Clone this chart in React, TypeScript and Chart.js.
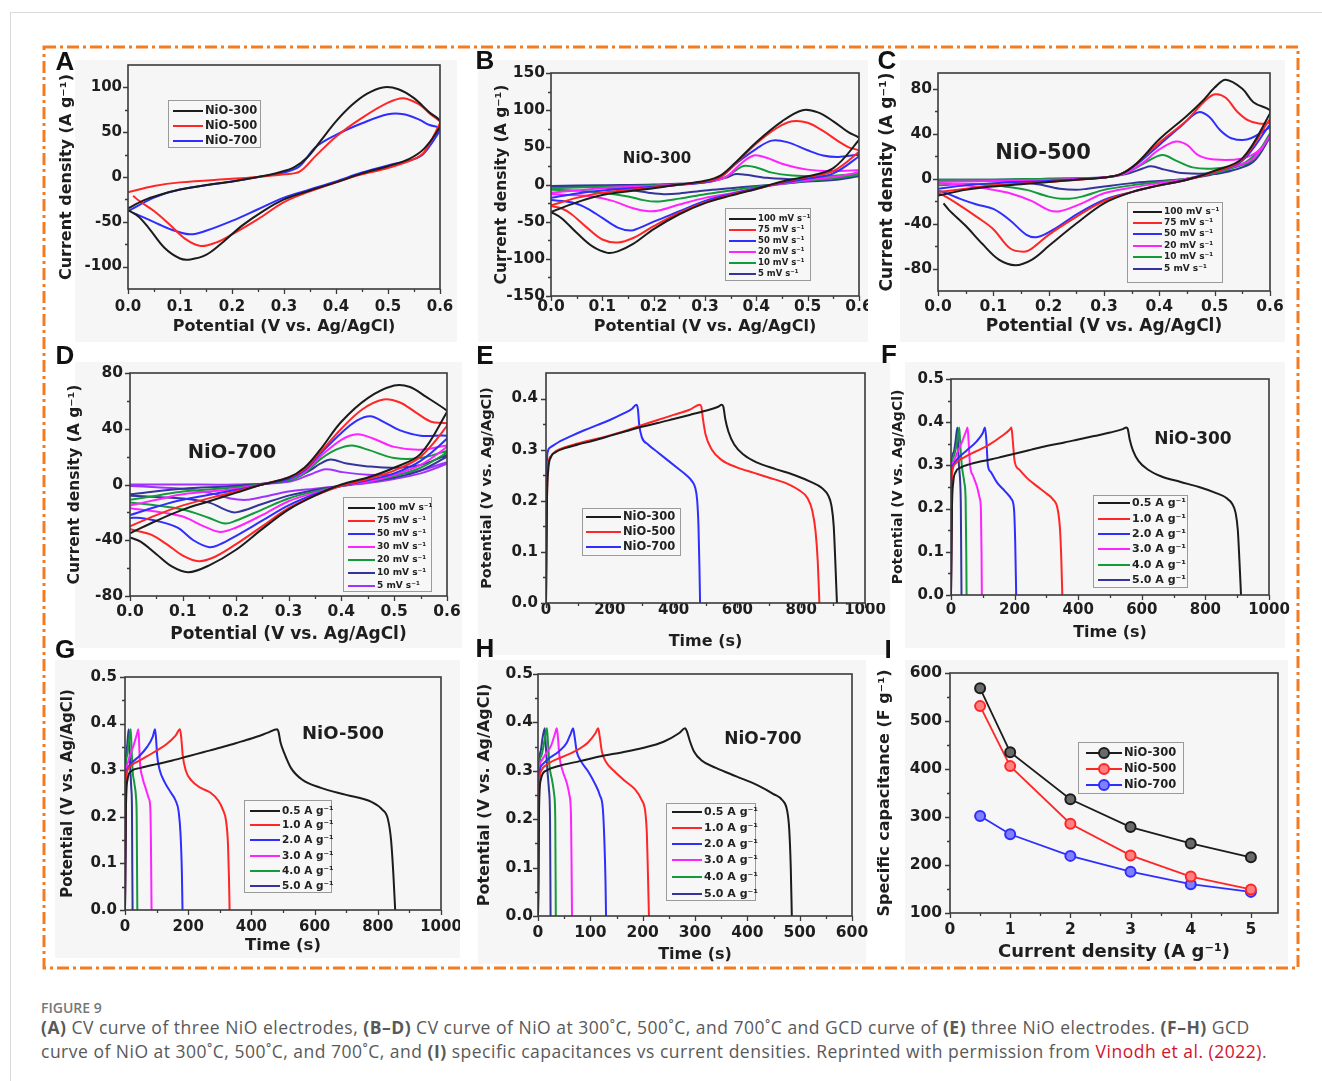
import React, { useEffect, useRef } from "react";
import { Chart, registerables } from "chart.js";
Chart.register(...registerables);

type P = [number, number];

const FONT = '"DejaVu Sans", "Liberation Sans", sans-serif';
const BLACK = "#1c1c1c";
const RED = "#ff2626";
const BLUE = "#2e2eff";
const MAGENTA = "#ff24ff";
const GREEN = "#139a3a";
const NAVY = "#34349c";
const PURPLE = "#a033ff";

// ---------- labels ----------
const SAMPLES = ["NiO-300", "NiO-500", "NiO-700"];
const RATES_BC = ["100 mV s⁻¹", "75 mV s⁻¹", "50 mV s⁻¹", "20 mV s⁻¹", "10 mV s⁻¹", "5 mV s⁻¹"];
const RATES_D = ["100 mV s⁻¹", "75 mV s⁻¹", "50 mV s⁻¹", "30 mV s⁻¹", "20 mV s⁻¹", "10 mV s⁻¹", "5 mV s⁻¹"];
const CURRENTS = ["0.5 A g⁻¹", "1.0 A g⁻¹", "2.0 A g⁻¹", "3.0 A g⁻¹", "4.0 A g⁻¹", "5.0 A g⁻¹"];

// ---------- ticks ----------
const CV_X_MAJOR = [0, 0.1, 0.2, 0.3, 0.4, 0.5, 0.6];
const CV_X_MINOR = [0.05, 0.15, 0.25, 0.35, 0.45, 0.55];
const A_Y_MAJOR = [-100, -50, 0, 50, 100];
const A_Y_MINOR = [-75, -25, 25, 75];
const B_Y_MAJOR = [-150, -100, -50, 0, 50, 100, 150];
const B_Y_MINOR = [-125, -75, -25, 25, 75, 125];
const CD_Y_MAJOR = [-80, -40, 0, 40, 80];
const CD_Y_MINOR = [-60, -20, 20, 60];
const E_Y_MAJOR = [0, 0.1, 0.2, 0.3, 0.4];
const E_Y_MINOR = [0.05, 0.15, 0.25, 0.35];
const GCD_Y_MAJOR = [0, 0.1, 0.2, 0.3, 0.4, 0.5];
const GCD_Y_MINOR = [0.05, 0.15, 0.25, 0.35, 0.45];
const GCD_X_MAJOR = [0, 200, 400, 600, 800, 1000];
const GCD_X_MINOR = [100, 300, 500, 700, 900];
const H_X_MAJOR = [0, 100, 200, 300, 400, 500, 600];
const H_X_MINOR = [50, 150, 250, 350, 450, 550];
const I_X_MAJOR = [0, 1, 2, 3, 4, 5];
const I_X_MINOR = [0.5, 1.5, 2.5, 3.5, 4.5];
const I_Y_MAJOR = [100, 200, 300, 400, 500, 600];
const I_Y_MINOR = [150, 250, 350, 450, 550];

// ---------- A : CV of three electrodes ----------
const CV_A_300: P[] = [[0,-35],[0.03,-26],[0.06,-20],[0.1,-14],[0.15,-9],[0.2,-5],[0.25,0],[0.29,5],[0.32,11],[0.345,22],[0.37,40],[0.4,62],[0.43,80],[0.46,93],[0.49,100],[0.52,98],[0.55,88],[0.58,72],[0.6,63],[0.6,56],[0.57,32],[0.54,20],[0.5,12],[0.45,4],[0.4,-6],[0.35,-15],[0.3,-25],[0.26,-38],[0.22,-54],[0.18,-74],[0.15,-87],[0.12,-92],[0.1,-91],[0.07,-79],[0.04,-57],[0.02,-44],[0,-37]];
const CV_A_500: P[] = [[0,-17],[0.05,-10],[0.1,-6],[0.2,-2],[0.25,0],[0.3,3],[0.33,6],[0.36,23],[0.4,45],[0.45,66],[0.5,83],[0.53,88],[0.56,81],[0.58,71],[0.6,62],[0.6,60],[0.57,28],[0.55,20],[0.5,10],[0.45,3],[0.4,-6],[0.35,-16],[0.3,-28],[0.25,-47],[0.2,-64],[0.17,-73],[0.14,-77],[0.11,-69],[0.08,-53],[0.05,-38],[0.02,-26],[0.01,-21]];
const CV_A_700: P[] = [[0,-38],[0.05,-23],[0.1,-14],[0.2,-5],[0.25,0],[0.3,5],[0.33,12],[0.36,33],[0.4,47],[0.45,60],[0.5,70],[0.53,70],[0.56,64],[0.58,58],[0.6,55],[0.6,52],[0.57,27],[0.55,20],[0.5,13],[0.45,5],[0.4,-5],[0.35,-14],[0.3,-23],[0.25,-36],[0.2,-49],[0.15,-60],[0.12,-64],[0.09,-60],[0.06,-53],[0.03,-45],[0.01,-40]];

// ---------- B : NiO-300 at scan rates ----------
const CV_B_100: P[] = [[0,-37],[0.05,-24],[0.1,-14],[0.2,-5],[0.25,0],[0.3,5],[0.33,12],[0.36,30],[0.4,57],[0.45,85],[0.49,100],[0.52,97],[0.55,85],[0.58,70],[0.6,63],[0.6,60],[0.55,22],[0.5,11],[0.45,4],[0.4,-6],[0.35,-15],[0.3,-25],[0.25,-40],[0.2,-60],[0.16,-80],[0.13,-90],[0.11,-92],[0.08,-83],[0.05,-65],[0.02,-45],[0,-37]];
const CV_B_75: P[] = [[0,-28],[0.05,-18],[0.1,-11],[0.2,-4],[0.3,4],[0.33,10],[0.36,28],[0.4,55],[0.44,76],[0.47,85],[0.5,83],[0.53,72],[0.56,58],[0.58,50],[0.6,46],[0.6,44],[0.55,18],[0.5,10],[0.45,3],[0.4,-6],[0.35,-14],[0.3,-24],[0.25,-38],[0.2,-56],[0.16,-72],[0.13,-78],[0.1,-74],[0.07,-58],[0.04,-40],[0.02,-32],[0,-29]];
const CV_B_50: P[] = [[0,-18],[0.05,-12],[0.1,-8],[0.2,-3],[0.3,3],[0.33,10],[0.36,28],[0.4,48],[0.43,59],[0.46,57],[0.5,46],[0.53,39],[0.56,37],[0.6,40],[0.6,38],[0.55,15],[0.5,8],[0.45,2],[0.4,-5],[0.35,-13],[0.3,-22],[0.25,-36],[0.2,-50],[0.17,-59],[0.155,-62],[0.13,-58],[0.1,-45],[0.07,-32],[0.04,-24],[0,-21]];
const CV_B_20: P[] = [[0,-11],[0.05,-8],[0.1,-5],[0.2,-2],[0.3,3],[0.34,10],[0.37,28],[0.395,39],[0.42,36],[0.45,28],[0.5,20],[0.55,18],[0.6,19],[0.6,17],[0.55,10],[0.5,6],[0.45,1],[0.4,-5],[0.35,-12],[0.3,-18],[0.25,-27],[0.21,-35],[0.19,-36],[0.16,-32],[0.12,-22],[0.08,-16],[0.04,-14],[0,-13]];
const CV_B_10: P[] = [[0,-5],[0.1,-3],[0.2,-1],[0.3,3],[0.34,10],[0.36,19],[0.375,25],[0.4,23],[0.43,16],[0.47,12],[0.52,11],[0.6,14],[0.6,13],[0.55,8],[0.5,5],[0.45,1],[0.4,-3],[0.35,-8],[0.3,-13],[0.25,-19],[0.205,-23],[0.18,-21],[0.15,-16],[0.1,-11],[0.05,-8],[0,-7]];
const CV_B_5: P[] = [[0,-2],[0.1,-1],[0.2,0],[0.3,3],[0.34,9],[0.36,14],[0.38,13],[0.42,9],[0.48,7],[0.55,9],[0.6,11],[0.6,11],[0.55,6],[0.5,4],[0.45,1],[0.4,-2],[0.35,-5],[0.3,-8],[0.25,-12],[0.22,-13],[0.19,-11],[0.15,-7],[0.1,-4],[0.05,-3],[0,-3]];

// ---------- C : NiO-500 at scan rates ----------
const CV_C_100: P[] = [[0,-15],[0.05,-10],[0.1,-7],[0.15,-5],[0.2,-3],[0.25,-1],[0.3,1],[0.33,4],[0.36,14],[0.4,35],[0.45,56],[0.48,70],[0.5,81],[0.52,88],[0.55,80],[0.57,68],[0.6,61],[0.6,58],[0.55,18],[0.5,7],[0.45,-1],[0.4,-6],[0.35,-12],[0.3,-22],[0.25,-40],[0.2,-60],[0.17,-72],[0.14,-77],[0.11,-72],[0.08,-58],[0.05,-42],[0.02,-28],[0.01,-22]];
const CV_C_75: P[] = [[0,-12],[0.05,-9],[0.1,-6],[0.2,-3],[0.3,1],[0.33,4],[0.36,14],[0.4,32],[0.45,52],[0.48,68],[0.5,75],[0.52,72],[0.54,60],[0.56,52],[0.58,49],[0.6,50],[0.6,53],[0.55,17],[0.5,6],[0.45,-1],[0.4,-6],[0.35,-12],[0.3,-20],[0.25,-34],[0.2,-50],[0.17,-62],[0.155,-65],[0.13,-62],[0.1,-45],[0.07,-34],[0.04,-24],[0.01,-15],[0,-13]];
const CV_C_50: P[] = [[0,-9],[0.05,-6],[0.1,-4],[0.2,-2],[0.3,1],[0.33,4],[0.36,13],[0.4,30],[0.44,47],[0.47,59],[0.49,55],[0.51,43],[0.53,36],[0.56,35],[0.6,46],[0.6,48],[0.55,16],[0.5,6],[0.45,-1],[0.4,-6],[0.35,-12],[0.3,-19],[0.25,-32],[0.21,-45],[0.18,-52],[0.16,-50],[0.13,-37],[0.1,-27],[0.07,-23],[0.04,-18],[0.01,-12],[0,-11]];
const CV_C_20: P[] = [[0,-3],[0.1,-2],[0.2,-1],[0.3,1],[0.34,5],[0.37,14],[0.4,26],[0.43,33],[0.45,30],[0.47,21],[0.5,17],[0.55,18],[0.58,25],[0.6,38],[0.6,38],[0.57,18],[0.53,10],[0.5,6],[0.45,0],[0.4,-4],[0.35,-8],[0.3,-13],[0.26,-22],[0.22,-29],[0.2,-28],[0.17,-20],[0.13,-13],[0.1,-10],[0.05,-6],[0,-4]];
const CV_C_10: P[] = [[0,-1],[0.1,-1],[0.2,0],[0.3,1],[0.34,5],[0.37,13],[0.405,21],[0.43,16],[0.46,10],[0.5,9],[0.55,13],[0.58,25],[0.6,40],[0.6,39],[0.57,17],[0.53,9],[0.5,5],[0.45,0],[0.4,-3],[0.35,-6],[0.3,-10],[0.26,-16],[0.23,-18],[0.2,-16],[0.16,-10],[0.12,-7],[0.08,-5],[0.04,-5],[0,-6]];
const CV_C_5: P[] = [[0,-1],[0.1,-1],[0.2,0],[0.3,1],[0.34,4],[0.37,9],[0.385,11],[0.41,8],[0.44,5],[0.5,5],[0.55,10],[0.58,22],[0.6,38],[0.6,37],[0.57,15],[0.53,7],[0.5,4],[0.45,0],[0.4,-2],[0.35,-4],[0.3,-7],[0.27,-9],[0.25,-10],[0.22,-9],[0.18,-5],[0.12,-2],[0.05,-1],[0,-1]];

// ---------- D : NiO-700 at scan rates ----------
const CV_D_100: P[] = [[0,-35],[0.05,-26],[0.1,-18],[0.15,-12],[0.2,-6],[0.25,0],[0.3,5],[0.33,12],[0.36,25],[0.4,45],[0.45,62],[0.5,71],[0.53,70],[0.56,63],[0.6,53],[0.6,52],[0.55,22],[0.5,12],[0.45,5],[0.4,0],[0.35,-8],[0.3,-18],[0.25,-32],[0.2,-47],[0.15,-58],[0.11,-63],[0.08,-59],[0.05,-50],[0.02,-41],[0,-38]];
const CV_D_75: P[] = [[0,-30],[0.05,-22],[0.1,-15],[0.2,-5],[0.25,0],[0.3,5],[0.33,11],[0.36,23],[0.4,40],[0.44,54],[0.48,61],[0.51,59],[0.54,52],[0.57,45],[0.6,44],[0.6,42],[0.55,20],[0.5,10],[0.45,4],[0.4,-1],[0.35,-8],[0.3,-17],[0.25,-30],[0.2,-43],[0.16,-52],[0.13,-55],[0.1,-51],[0.07,-43],[0.04,-36],[0.01,-33],[0,-32]];
const CV_D_50: P[] = [[0,-22],[0.05,-16],[0.1,-11],[0.2,-4],[0.25,0],[0.3,4],[0.33,10],[0.36,22],[0.4,37],[0.43,46],[0.455,49],[0.48,45],[0.51,39],[0.55,35],[0.6,35],[0.6,33],[0.55,17],[0.5,8],[0.45,3],[0.4,-1],[0.35,-7],[0.3,-15],[0.25,-26],[0.2,-37],[0.17,-43],[0.15,-45],[0.12,-40],[0.09,-31],[0.05,-26],[0.02,-24],[0,-24]];
const CV_D_30: P[] = [[0,-15],[0.05,-11],[0.1,-7],[0.2,-3],[0.3,4],[0.33,9],[0.36,20],[0.4,32],[0.43,36],[0.46,33],[0.5,27],[0.55,25],[0.6,28],[0.6,27],[0.55,14],[0.5,7],[0.45,2],[0.4,-1],[0.35,-6],[0.3,-12],[0.25,-22],[0.2,-31],[0.17,-34],[0.14,-30],[0.1,-23],[0.06,-20],[0.02,-18],[0,-17]];
const CV_D_20: P[] = [[0,-11],[0.05,-8],[0.1,-5],[0.2,-2],[0.3,3],[0.33,8],[0.36,18],[0.39,25],[0.42,28],[0.45,25],[0.5,19],[0.55,19],[0.6,24],[0.6,23],[0.55,12],[0.5,6],[0.45,2],[0.4,-1],[0.35,-5],[0.3,-10],[0.25,-18],[0.2,-26],[0.18,-28],[0.15,-24],[0.1,-18],[0.05,-15],[0,-13]];
const CV_D_10: P[] = [[0,-7],[0.1,-3],[0.2,-1],[0.3,3],[0.34,10],[0.36,15],[0.38,18],[0.41,15],[0.45,13],[0.5,12],[0.55,14],[0.6,21],[0.6,20],[0.55,10],[0.5,5],[0.45,2],[0.4,-1],[0.35,-4],[0.3,-8],[0.25,-14],[0.2,-20],[0.18,-18],[0.15,-13],[0.1,-10],[0.05,-9],[0,-8]];
const CV_D_5: P[] = [[0,0],[0.1,0],[0.2,0],[0.3,2],[0.34,7],[0.37,11],[0.4,9],[0.45,7],[0.5,7],[0.55,10],[0.6,16],[0.6,15],[0.55,8],[0.5,4],[0.45,1],[0.4,-1],[0.35,-3],[0.3,-5],[0.25,-9],[0.22,-11],[0.19,-10],[0.15,-6],[0.1,-3],[0.05,-2],[0,-1]];

// ---------- E : GCD of three electrodes at 0.5 A/g ----------
const GCD_300_05: P[] = [[0,0],[3,0.2],[7,0.26],[15,0.285],[30,0.295],[60,0.303],[100,0.31],[150,0.318],[200,0.327],[250,0.336],[300,0.345],[350,0.352],[400,0.36],[450,0.368],[500,0.376],[540,0.384],[551,0.388],[556,0.384],[562,0.36],[572,0.335],[590,0.31],[620,0.29],[660,0.275],[720,0.262],[780,0.25],[830,0.237],[865,0.225],[885,0.21],[895,0.19],[902,0.15],[907,0.08],[912,0]];
const GCD_500_05_E: P[] = [[0,0],[3,0.2],[7,0.27],[15,0.287],[30,0.297],[60,0.305],[100,0.312],[150,0.32],[200,0.328],[250,0.337],[300,0.348],[350,0.358],[400,0.368],[450,0.378],[482,0.388],[487,0.384],[492,0.36],[500,0.33],[520,0.3],[550,0.28],[600,0.265],[650,0.255],[700,0.245],[750,0.235],[790,0.222],[820,0.205],[835,0.18],[845,0.14],[852,0.08],[857,0]];
const GCD_700_05_E: P[] = [[0,0],[2,0.25],[5,0.295],[15,0.305],[40,0.315],[80,0.327],[120,0.338],[160,0.348],[200,0.358],[240,0.37],[270,0.38],[283,0.388],[288,0.38],[292,0.35],[300,0.325],[320,0.31],[350,0.295],[380,0.28],[410,0.265],[440,0.25],[458,0.238],[468,0.225],[474,0.2],[478,0.15],[481,0.07],[483,0]];

// ---------- F : NiO-300 GCD ----------
const F_10: P[] = [[0,0],[2,0.25],[5,0.29],[15,0.305],[40,0.318],[80,0.333],[120,0.348],[160,0.368],[185,0.383],[190,0.388],[194,0.36],[200,0.31],[215,0.29],[240,0.27],[270,0.252],[300,0.235],[320,0.222],[335,0.2],[343,0.15],[347,0.08],[350,0]];
const F_20: P[] = [[0,0],[2,0.27],[6,0.3],[20,0.315],[50,0.335],[80,0.355],[100,0.375],[107,0.388],[111,0.36],[116,0.3],[125,0.285],[145,0.26],[170,0.24],[190,0.222],[198,0.2],[202,0.12],[205,0]];
const F_30: P[] = [[0,0],[2,0.28],[8,0.31],[20,0.33],[35,0.355],[48,0.38],[52,0.388],[55,0.36],[60,0.3],[70,0.275],[82,0.25],[90,0.225],[94,0.2],[96,0.1],[97,0]];
const F_40: P[] = [[0,0],[2,0.29],[8,0.32],[18,0.35],[26,0.388],[29,0.35],[34,0.3],[42,0.26],[46,0.22],[48,0.1],[49,0]];
const F_50: P[] = [[0,0],[2,0.3],[8,0.33],[15,0.36],[20,0.388],[22,0.35],[25,0.3],[29,0.26],[31,0.2],[32,0.1],[33,0]];

// ---------- G : NiO-500 GCD ----------
const G_05: P[] = [[0,0],[3,0.22],[8,0.28],[20,0.298],[50,0.305],[100,0.313],[150,0.321],[200,0.33],[250,0.339],[300,0.348],[350,0.358],[400,0.368],[450,0.38],[482,0.388],[486,0.382],[492,0.36],[505,0.335],[525,0.305],[560,0.28],[620,0.262],[700,0.247],[780,0.232],[815,0.215],[832,0.195],[842,0.15],[849,0.08],[855,0]];
const G_10: P[] = [[0,0],[2,0.25],[6,0.295],[20,0.31],[50,0.322],[90,0.338],[130,0.355],[160,0.374],[174,0.388],[178,0.37],[183,0.33],[192,0.3],[210,0.278],[240,0.262],[270,0.252],[295,0.235],[310,0.215],[320,0.19],[326,0.14],[329,0.07],[331,0]];
const G_20: P[] = [[0,0],[2,0.26],[6,0.3],[20,0.315],[45,0.33],[70,0.35],[88,0.372],[95,0.388],[98,0.37],[102,0.33],[110,0.3],[125,0.275],[145,0.252],[160,0.235],[170,0.21],[176,0.16],[180,0.08],[182,0]];
const G_30: P[] = [[0,0],[2,0.28],[6,0.31],[15,0.33],[28,0.355],[38,0.378],[42,0.388],[44,0.37],[47,0.32],[55,0.285],[66,0.26],[75,0.24],[80,0.22],[82,0.15],[84,0]];
const G_40: P[] = [[0,0],[2,0.29],[6,0.33],[12,0.36],[18,0.388],[20,0.36],[24,0.3],[30,0.27],[35,0.24],[37,0.2],[38,0.1],[39,0]];
const G_50: P[] = [[0,0],[2,0.3],[5,0.34],[9,0.37],[12,0.388],[14,0.35],[17,0.3],[20,0.26],[22,0.22],[23,0.1],[24,0]];

// ---------- H : NiO-700 GCD ----------
const H_05: P[] = [[0,0],[2,0.22],[5,0.28],[15,0.3],[40,0.31],[80,0.32],[120,0.33],[160,0.338],[200,0.347],[240,0.36],[270,0.378],[281,0.388],[285,0.38],[290,0.362],[298,0.34],[312,0.322],[340,0.306],[380,0.288],[420,0.27],[450,0.252],[468,0.238],[476,0.218],[480,0.18],[483,0.1],[485,0]];
const H_10: P[] = [[0,0],[2,0.26],[6,0.3],[20,0.315],[45,0.328],[70,0.34],[95,0.358],[110,0.378],[115,0.388],[118,0.37],[122,0.34],[130,0.318],[145,0.3],[165,0.28],[185,0.262],[198,0.24],[205,0.215],[208,0.17],[210,0.09],[212,0]];
const H_20: P[] = [[0,0],[2,0.28],[6,0.31],[20,0.325],[40,0.34],[55,0.358],[63,0.378],[67,0.388],[70,0.37],[74,0.34],[82,0.32],[95,0.3],[108,0.275],[118,0.25],[124,0.22],[127,0.15],[129,0.07],[130,0]];
const H_30: P[] = [[0,0],[2,0.29],[6,0.32],[15,0.335],[25,0.352],[32,0.375],[36,0.388],[38,0.37],[41,0.33],[47,0.3],[55,0.275],[60,0.25],[63,0.21],[64,0.12],[65,0]];
const H_40: P[] = [[0,0],[2,0.3],[6,0.33],[12,0.36],[17,0.388],[19,0.36],[22,0.31],[27,0.28],[31,0.25],[33,0.2],[34,0]];
const H_50: P[] = [[0,0],[2,0.31],[5,0.34],[9,0.37],[13,0.388],[15,0.35],[18,0.3],[21,0.26],[23,0.2],[24,0]];

// ---------- I : specific capacitance ----------
const I_CURRENT = [0.5, 1, 2, 3, 4, 5];
const I_NIO300 = [568, 435, 337, 279, 245, 216];
const I_NIO500 = [531, 406, 286, 220, 176, 149];
const I_NIO700 = [302, 264, 219, 186, 160, 144];

// ---------- panel machinery ----------
type Series = { label: string; color: string; data: P[]; fill?: string };
type Axis = { min: number; max: number; major: number[]; minor: number[]; dec: number };
type Leg = { box: [number, number, number, number]; rows: number[]; line: [number, number]; textX: number; font: number };
type Cfg = {
  canvas: [number, number, number, number];
  plot: [number, number, number, number];
  bg: [number, number, number, number];
  x: Axis; y: Axis;
  xTitle: string; yTitle: string; xTitleSize: number; yTitleSize: number;
  xTitleY: number; yTitleX: number; xLabelY: number; yLabelPad: number;
  tickSize: number; lw: number; mode: "loop" | "mono" | "straight"; markers?: boolean;
  series: Series[]; legend: Leg;
};

function buildConfig(c: Cfg): any {
  const [cl, ct, cw, ch] = c.canvas;
  const [pl, pt, pr, pb] = c.plot;
  const tickFont = { family: FONT, weight: "bold", size: c.tickSize };
  const frame = {
    id: "frame",
    afterDraw(chart: any) {
      const ctx = chart.ctx;
      const a = chart.chartArea;
      const xs = chart.scales.x;
      const ys = chart.scales.y;
      ctx.save();
      ctx.strokeStyle = "#3a3a3a";
      ctx.lineWidth = 1.6;
      ctx.strokeRect(a.left, a.top, a.right - a.left, a.bottom - a.top);
      ctx.lineWidth = 1.3;
      ctx.beginPath();
      const tx = (vals: number[], len: number) => vals.forEach((v) => {
        const p = Math.round(xs.getPixelForValue(v)) + 0.5;
        ctx.moveTo(p, a.bottom); ctx.lineTo(p, a.bottom + len);
      });
      const ty = (vals: number[], len: number) => vals.forEach((v) => {
        const p = Math.round(ys.getPixelForValue(v)) + 0.5;
        ctx.moveTo(a.left, p); ctx.lineTo(a.left - len, p);
      });
      tx(c.x.major, 5); tx(c.x.minor, 3); ty(c.y.major, 5); ty(c.y.minor, 3);
      ctx.stroke();
      // boxed legend
      const L = c.legend;
      ctx.fillStyle = "#f7f7f7";
      ctx.fillRect(L.box[0] - cl, L.box[1] - ct, L.box[2], L.box[3]);
      ctx.strokeStyle = "#9a9a9a";
      ctx.lineWidth = 1;
      ctx.strokeRect(L.box[0] - cl + 0.5, L.box[1] - ct + 0.5, L.box[2], L.box[3]);
      chart.data.datasets.forEach((ds: any, i: number) => {
        const y = L.rows[i] - ct;
        ctx.strokeStyle = ds.borderColor;
        ctx.lineWidth = 2;
        ctx.beginPath();
        ctx.moveTo(L.line[0] - cl, y);
        ctx.lineTo(L.line[1] - cl, y);
        ctx.stroke();
        if (c.markers) {
          ctx.beginPath();
          ctx.arc((L.line[0] + L.line[1]) / 2 - cl, y, 5, 0, Math.PI * 2);
          ctx.fillStyle = ds.pointBackgroundColor;
          ctx.fill();
          ctx.lineWidth = 2;
          ctx.stroke();
        }
        ctx.fillStyle = "#222";
        ctx.font = `bold ${L.font}px ${FONT}`;
        ctx.textBaseline = "middle";
        ctx.textAlign = "left";
        ctx.fillText(ds.label, L.textX - cl, y);
      });
      ctx.restore();
    },
  };
  return {
    type: "scatter",
    data: {
      datasets: c.series.map((s) => ({
        label: s.label,
        data: s.data.map(([x, y]) => ({ x, y })),
        borderColor: s.color,
        backgroundColor: s.color,
        pointBackgroundColor: s.fill || s.color,
        pointBorderColor: s.color,
        pointBorderWidth: 2,
        showLine: true,
        borderWidth: c.lw,
        pointRadius: c.markers ? 5 : 0,
        pointHoverRadius: 0,
        tension: c.mode === "loop" ? 0.35 : 0,
        cubicInterpolationMode: c.mode === "mono" ? "monotone" : "default",
      })),
    },
    options: {
      responsive: false,
      animation: false,
      devicePixelRatio: 1,
      events: [],
      layout: { padding: { left: 0, bottom: 0, top: pt - ct, right: cl + cw - pr } },
      plugins: { legend: { display: false }, tooltip: { enabled: false } },
      scales: {
        x: {
          type: "linear", position: "bottom", min: c.x.min, max: c.x.max,
          grid: { display: false, drawTicks: false }, border: { display: false },
          ticks: {
            font: tickFont, color: "#1e1e1e", autoSkip: false, maxRotation: 0, minRotation: 0,
            padding: c.xLabelY - pb - 0.6 * c.tickSize,
            callback: (v: any) => Number(v).toFixed(c.x.dec),
          },
          afterBuildTicks: (s: any) => { s.ticks = c.x.major.map((v) => ({ value: v })); },
          afterFit: (s: any) => { s.height = ct + ch - pb; s.paddingLeft = 0; s.paddingRight = 0; },
          title: {
            display: true, text: c.xTitle, color: "#1e1e1e",
            font: { family: FONT, weight: "bold", size: c.xTitleSize },
            padding: { top: 0, bottom: ct + ch - c.xTitleY - 0.6 * c.xTitleSize },
          },
        },
        y: {
          type: "linear", position: "left", min: c.y.min, max: c.y.max,
          grid: { display: false, drawTicks: false }, border: { display: false },
          ticks: {
            font: tickFont, color: "#1e1e1e", autoSkip: false,
            padding: c.yLabelPad,
            callback: (v: any) => Number(v).toFixed(c.y.dec),
          },
          afterBuildTicks: (s: any) => { s.ticks = c.y.major.map((v) => ({ value: v })); },
          afterFit: (s: any) => { s.width = pl - cl; s.paddingTop = 0; s.paddingBottom = 0; },
          title: {
            display: true, text: c.yTitle, color: "#1e1e1e",
            font: { family: FONT, weight: "bold", size: c.yTitleSize },
            padding: { top: c.yTitleX - cl - 0.6 * c.yTitleSize, bottom: 0 },
          },
        },
      },
    },
    plugins: [frame],
  };
}

function Panel({ cfg }: { cfg: Cfg }) {
  const ref = useRef<HTMLCanvasElement>(null);
  useEffect(() => {
    const chart = new Chart(ref.current as HTMLCanvasElement, buildConfig(cfg));
    return () => chart.destroy();
  }, []);
  const [l, t, w, h] = cfg.canvas;
  return <canvas ref={ref} width={w} height={h} style={{ position: "absolute", left: l, top: t, width: w, height: h }} />;
}

const CUR_TITLE = "Current density (A g⁻¹)";
const POT_TITLE = "Potential (V vs. Ag/AgCl)";
const TIME_TITLE = "Time (s)";
const CV_X: Axis = { min: 0, max: 0.6, major: CV_X_MAJOR, minor: CV_X_MINOR, dec: 1 };
const GCD_X: Axis = { min: 0, max: 1000, major: GCD_X_MAJOR, minor: GCD_X_MINOR, dec: 0 };
const GCD_Y: Axis = { min: 0, max: 0.5, major: GCD_Y_MAJOR, minor: GCD_Y_MINOR, dec: 1 };
const SIX = [BLACK, RED, BLUE, MAGENTA, GREEN, NAVY];

const PANELS: Cfg[] = [
  { // A
    canvas: [48, 58, 412, 282], plot: [128, 65, 440, 289], bg: [75, 60, 457, 342],
    x: CV_X, y: { min: -125, max: 125, major: A_Y_MAJOR, minor: A_Y_MINOR, dec: 0 },
    xTitle: POT_TITLE, yTitle: CUR_TITLE, xTitleSize: 16, yTitleSize: 16,
    xTitleY: 327, yTitleX: 67, xLabelY: 307, yLabelPad: 6, tickSize: 15, lw: 2, mode: "loop",
    series: [CV_A_300, CV_A_500, CV_A_700].map((d, i) => ({ label: SAMPLES[i], color: [BLACK, RED, BLUE][i], data: d })),
    legend: { box: [168, 100, 92, 47], rows: [111, 126, 141], line: [173, 203], textX: 205, font: 11.5 },
  },
  { // B
    canvas: [486, 58, 382, 282], plot: [551, 73, 859, 296], bg: [478, 60, 868, 342],
    x: CV_X, y: { min: -150, max: 150, major: B_Y_MAJOR, minor: B_Y_MINOR, dec: 0 },
    xTitle: POT_TITLE, yTitle: CUR_TITLE, xTitleSize: 16, yTitleSize: 15.5,
    xTitleY: 327, yTitleX: 502, xLabelY: 307, yLabelPad: 6, tickSize: 15.5, lw: 2, mode: "loop",
    series: [CV_B_100, CV_B_75, CV_B_50, CV_B_20, CV_B_10, CV_B_5].map((d, i) => ({ label: RATES_BC[i], color: SIX[i], data: d })),
    legend: { box: [725, 208, 85, 72], rows: [219, 230, 241, 252, 263, 274], line: [729, 756], textX: 758, font: 8.5 },
  },
  { // C
    canvas: [874, 58, 418, 282], plot: [938, 73, 1270, 291], bg: [900, 60, 1285, 342],
    x: CV_X, y: { min: -100, max: 94, major: CD_Y_MAJOR, minor: CD_Y_MINOR, dec: 0 },
    xTitle: POT_TITLE, yTitle: CUR_TITLE, xTitleSize: 17, yTitleSize: 17,
    xTitleY: 327, yTitleX: 888, xLabelY: 307, yLabelPad: 6, tickSize: 15.5, lw: 2, mode: "loop",
    series: [CV_C_100, CV_C_75, CV_C_50, CV_C_20, CV_C_10, CV_C_5].map((d, i) => ({ label: RATES_BC[i], color: SIX[i], data: d })),
    legend: { box: [1127, 202, 95, 80], rows: [212, 223, 234, 246, 257, 269], line: [1133, 1162], textX: 1164, font: 9 },
  },
  { // D
    canvas: [52, 365, 413, 282], plot: [130, 373, 447, 596], bg: [75, 362, 462, 648],
    x: CV_X, y: { min: -80, max: 80, major: CD_Y_MAJOR, minor: CD_Y_MINOR, dec: 0 },
    xTitle: POT_TITLE, yTitle: CUR_TITLE, xTitleSize: 17, yTitleSize: 15.5,
    xTitleY: 635, yTitleX: 75, xLabelY: 612, yLabelPad: 7, tickSize: 15.5, lw: 2, mode: "loop",
    series: [CV_D_100, CV_D_75, CV_D_50, CV_D_30, CV_D_20, CV_D_10, CV_D_5].map((d, i) => ({ label: RATES_D[i], color: [...SIX, PURPLE][i], data: d })),
    legend: { box: [343, 497, 88, 94], rows: [508, 521, 534, 547, 560, 573, 586], line: [348, 375], textX: 377, font: 9 },
  },
  { // E
    canvas: [474, 365, 418, 289], plot: [546, 373, 865, 603], bg: [478, 362, 890, 655],
    x: GCD_X, y: { min: 0, max: 0.45, major: E_Y_MAJOR, minor: E_Y_MINOR, dec: 1 },
    xTitle: TIME_TITLE, yTitle: POT_TITLE, xTitleSize: 16, yTitleSize: 14.5,
    xTitleY: 642, yTitleX: 487, xLabelY: 610, yLabelPad: 8, tickSize: 15, lw: 2, mode: "mono",
    series: [GCD_300_05, GCD_500_05_E, GCD_700_05_E].map((d, i) => ({ label: SAMPLES[i], color: [BLACK, RED, BLUE][i], data: d })),
    legend: { box: [582, 508, 98, 47], rows: [517, 532, 547], line: [586, 621], textX: 623, font: 11.5 },
  },
  { // F
    canvas: [882, 365, 410, 280], plot: [951, 379, 1269, 595], bg: [905, 362, 1285, 648],
    x: GCD_X, y: GCD_Y,
    xTitle: TIME_TITLE, yTitle: POT_TITLE, xTitleSize: 16, yTitleSize: 14,
    xTitleY: 633, yTitleX: 898, xLabelY: 610, yLabelPad: 7, tickSize: 15, lw: 2, mode: "mono",
    series: [GCD_300_05, F_10, F_20, F_30, F_40, F_50].map((d, i) => ({ label: CURRENTS[i], color: SIX[i], data: d })),
    legend: { box: [1093, 495, 94, 92], rows: [503, 519, 534, 549, 565, 580], line: [1098, 1130], textX: 1132, font: 11 },
  },
  { // G
    canvas: [50, 662, 410, 298], plot: [125, 677, 441, 910], bg: [55, 660, 460, 958],
    x: GCD_X, y: GCD_Y,
    xTitle: TIME_TITLE, yTitle: POT_TITLE, xTitleSize: 16.5, yTitleSize: 15,
    xTitleY: 946, yTitleX: 68, xLabelY: 927, yLabelPad: 8, tickSize: 15, lw: 2, mode: "mono",
    series: [G_05, G_10, G_20, G_30, G_40, G_50].map((d, i) => ({ label: CURRENTS[i], color: SIX[i], data: d })),
    legend: { box: [244, 800, 87, 92], rows: [811, 825, 840, 856, 871, 886], line: [250, 280], textX: 282, font: 10.5 },
  },
  { // H
    canvas: [472, 662, 398, 304], plot: [538, 674, 852, 916], bg: [478, 660, 866, 964],
    x: { min: 0, max: 600, major: H_X_MAJOR, minor: H_X_MINOR, dec: 0 }, y: GCD_Y,
    xTitle: TIME_TITLE, yTitle: POT_TITLE, xTitleSize: 16, yTitleSize: 16,
    xTitleY: 955, yTitleX: 485, xLabelY: 933, yLabelPad: 5, tickSize: 15.5, lw: 2, mode: "mono",
    series: [H_05, H_10, H_20, H_30, H_40, H_50].map((d, i) => ({ label: CURRENTS[i], color: SIX[i], data: d })),
    legend: { box: [666, 803, 89, 97], rows: [812, 828, 844, 860, 877, 894], line: [672, 702], textX: 704, font: 11 },
  },
  { // I
    canvas: [872, 662, 420, 303], plot: [950, 673, 1278, 913], bg: [905, 660, 1288, 964],
    x: { min: 0, max: 5.45, major: I_X_MAJOR, minor: I_X_MINOR, dec: 0 },
    y: { min: 100, max: 600, major: I_Y_MAJOR, minor: I_Y_MINOR, dec: 0 },
    xTitle: CUR_TITLE, yTitle: "Specific capacitance (F g⁻¹)", xTitleSize: 18, yTitleSize: 16,
    xTitleY: 952, yTitleX: 885, xLabelY: 930, yLabelPad: 8, tickSize: 15.5, lw: 1.8, mode: "straight", markers: true,
    series: [I_NIO300, I_NIO500, I_NIO700].map((vals, i) => ({
      label: SAMPLES[i], color: [BLACK, RED, BLUE][i], fill: ["#6a6a6a", "#ff8080", "#8080ff"][i],
      data: vals.map((v, j) => [I_CURRENT[j], v] as P),
    })),
    legend: { box: [1078, 742, 105, 51], rows: [753, 769, 785], line: [1086, 1122], textX: 1124, font: 11.5 },
  },
];

const LETTERS: [string, number, number][] = [
  ["A", 65, 61], ["B", 485, 60], ["C", 887, 60],
  ["D", 65, 355], ["E", 485, 355], ["F", 889, 354],
  ["G", 65, 649], ["H", 485, 648], ["I", 888, 649],
];

const ANNOTS: [string, number, number, number][] = [
  ["NiO-300", 657, 158, 15],
  ["NiO-500", 1043, 152, 21],
  ["NiO-700", 232, 452, 19.5],
  ["NiO-300", 1193, 438, 17],
  ["NiO-500", 343, 733, 18],
  ["NiO-700", 763, 738, 17],
];

export default function App() {
  return (
    <div style={{ position: "absolute", left: 0, top: 0, width: 1322, height: 1081, background: "#fff", overflow: "hidden" }}>
      <div style={{ position: "absolute", left: 10, top: 12, width: 1330, height: 1100, borderTop: "1px solid #dadada", borderLeft: "1px solid #dadada" }} />
      <svg style={{ position: "absolute", left: 0, top: 0 }} width={1322} height={1081}>
        <rect x={44} y={47} width={1254} height={921} fill="none" stroke="#f47c20" strokeWidth={3} strokeDasharray="12 4 3 4" />
      </svg>
      {PANELS.map((p, i) => (
        <div key={"bg" + i} style={{ position: "absolute", left: p.bg[0], top: p.bg[1], width: p.bg[2] - p.bg[0], height: p.bg[3] - p.bg[1], background: "#f6f6f6" }} />
      ))}
      {PANELS.map((p, i) => <Panel key={i} cfg={p} />)}
      {LETTERS.map(([s, x, y]) => (
        <div key={s} style={{ position: "absolute", left: x, top: y, transform: "translate(-50%,-50%)", font: 'bold 26px "Liberation Sans", Arial, sans-serif', lineHeight: 1, color: "#111" }}>{s}</div>
      ))}
      {ANNOTS.map(([s, x, y, f], i) => (
        <div key={i} style={{ position: "absolute", left: x, top: y, transform: "translate(-50%,-50%)", fontFamily: FONT, fontWeight: "bold", fontSize: f, lineHeight: 1, color: "#1e1e1e", whiteSpace: "nowrap" }}>{s}</div>
      ))}
      <div style={{ position: "absolute", left: 41, top: 999, fontFamily: '"Open Sans", sans-serif', fontSize: 14, fontWeight: 600, lineHeight: "18px", color: "#777" }}>FIGURE 9</div>
      <div style={{ position: "absolute", left: 41, top: 1015, width: 1275, fontFamily: '"Open Sans", sans-serif', fontSize: 17.5, letterSpacing: "0.5px", lineHeight: "24px", color: "#595959", whiteSpace: "nowrap" }}>
        <b>(A)</b> CV curve of three NiO electrodes, <b>(B–D)</b> CV curve of NiO at 300˚C, 500˚C, and 700˚C and GCD curve of <b>(E)</b> three NiO electrodes. <b>(F–H)</b> GCD
        <br />
        curve of NiO at 300˚C, 500˚C, and 700˚C, and <b>(I)</b> specific capacitances vs current densities. Reprinted with permission from <span style={{ color: "#d3132e" }}>Vinodh et al. (2022)</span>.
      </div>
    </div>
  );
}
